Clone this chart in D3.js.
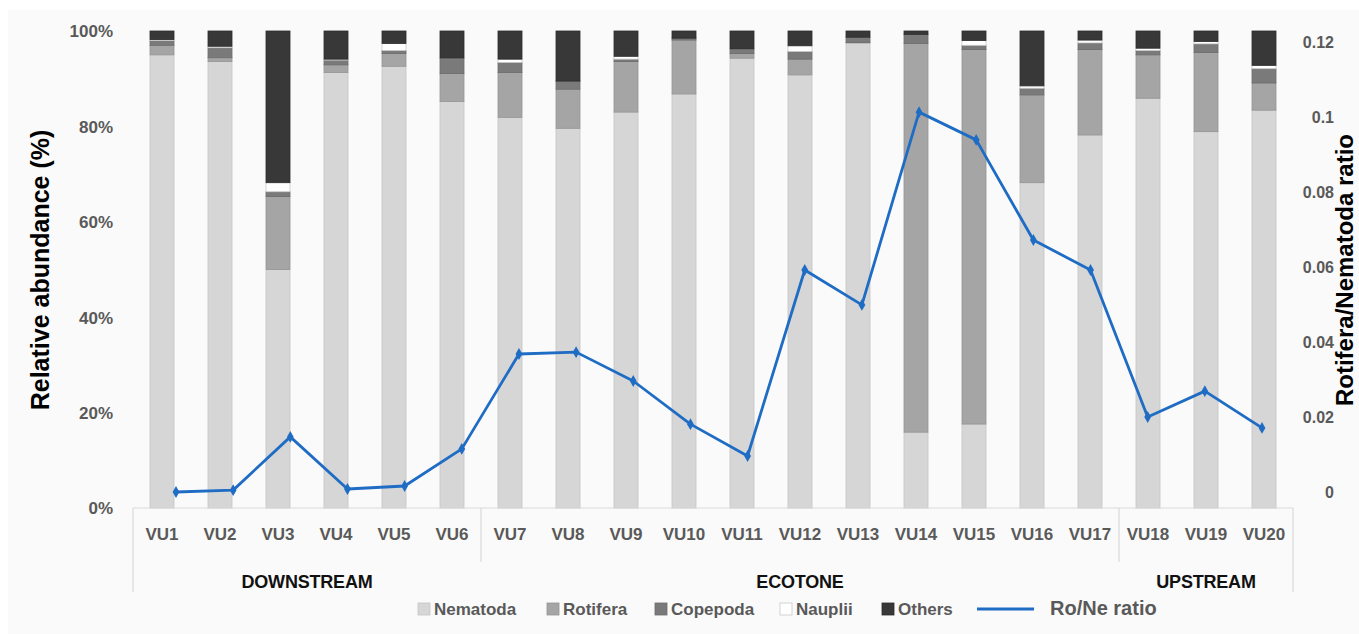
<!DOCTYPE html>
<html>
<head>
<meta charset="utf-8">
<script src="https://cdn.jsdelivr.net/npm/d3@7"></script>
<style>
  html, body { margin: 0; padding: 0; background: #ffffff; }
  svg { display: block; }
</style>
</head>
<body>
<svg id="chart" width="1359" height="634"></svg>
<script>
// ---------------- DATA ----------------
const categories = ["VU1","VU2","VU3","VU4","VU5","VU6","VU7","VU8","VU9","VU10",
                    "VU11","VU12","VU13","VU14","VU15","VU16","VU17","VU18","VU19","VU20"];
const groups = ["DOWNSTREAM","ECOTONE","UPSTREAM"];
const groupCounts = [6, 11, 3];
const seriesNames = ["Nematoda","Rotifera","Copepoda","Nauplii","Others"];
const nematoda = [95.0, 93.6, 50.0, 91.3, 92.6, 85.2, 81.9, 79.6, 83.0, 86.8,
                  94.3, 90.8, 97.5, 15.9, 17.6, 68.2, 78.2, 85.9, 78.9, 83.4];
const rotifera = [2.0, 0.8, 15.3, 1.6, 2.7, 5.9, 9.4, 8.2, 10.6, 11.3,
                  1.0, 3.3, 0.1, 81.5, 78.5, 18.4, 17.9, 9.1, 16.6, 5.7];
const copepoda = [1.0, 2.1, 1.0, 1.0, 0.6, 3.1, 2.1, 1.7, 0.5, 0.4,
                  0.8, 1.6, 1.1, 1.9, 0.9, 1.4, 1.4, 0.9, 1.8, 3.0];
const nauplii  = [0.2, 0.3, 1.9, 0.2, 1.5, 0.1, 0.7, 0.0, 0.6, 0.0,
                  0.1, 1.2, 0.0, 0.0, 1.0, 0.5, 0.6, 0.5, 0.5, 0.7];
const others   = [1.8, 3.2, 31.8, 5.9, 2.6, 5.7, 5.9, 10.5, 5.3, 1.5,
                  3.8, 3.1, 1.3, 0.7, 2.0, 11.5, 1.9, 3.6, 2.2, 7.2];
const roNeRatio = [0.0, 0.0005, 0.0147, 0.0008, 0.0016, 0.0115, 0.0368, 0.0373, 0.0296, 0.0181,
                   0.0096, 0.0592, 0.0499, 0.1013, 0.0939, 0.0672, 0.0592, 0.0200, 0.0269, 0.0171];
const leftTicks = [0, 20, 40, 60, 80, 100];
const rightTicks = [0, 0.02, 0.04, 0.06, 0.08, 0.1, 0.12];
const lineName = "Ro/Ne ratio";

// ---------------- STYLE ----------------
const colors = {Nematoda:"#d6d6d6", Rotifera:"#a5a5a5", Copepoda:"#7a7a7a", Nauplii:"#ffffff", Others:"#383838"};
const strokes = {Nematoda:"#c4c4c4", Rotifera:"#959595", Copepoda:"#6c6c6c", Nauplii:"#c8c8c8", Others:"#2c2c2c"};
const lineColor = "#1f6cc4";
const labelGrey = "#595959";
const axisGrey = "#d9d9d9";
const fontMain = "'Liberation Sans', Arial, sans-serif";

const svg = d3.select("#chart");

// background panel
svg.append("rect").attr("x", 8).attr("y", 10).attr("width", 1351).attr("height", 624).attr("fill", "#fafafa");

// ---------------- SCALES ----------------
const plotLeft = 133, plotRight = 1293, yTop = 31, yBottom = 508;
const x = d3.scaleBand().domain(categories).range([plotLeft, plotRight]).paddingInner(0.586).paddingOuter(0.293);
const y = d3.scaleLinear().domain([0, 100]).range([yBottom, yTop]);
const y2 = d3.scaleLinear().domain([0, 0.12]).range([492, 42]);
const xLine = d3.scalePoint().domain(categories).range([176, 1262]);

// ---------------- STACKED BARS ----------------
const table = categories.map((c, i) => ({
  cat: c, Nematoda: nematoda[i], Rotifera: rotifera[i], Copepoda: copepoda[i], Nauplii: nauplii[i], Others: others[i]
}));
const stacked = d3.stack().keys(seriesNames)(table);

const barG = svg.append("g");
stacked.forEach(layer => {
  barG.append("g").selectAll("rect").data(layer).join("rect")
    .attr("x", d => x(d.data.cat))
    .attr("width", x.bandwidth())
    .attr("y", d => y(d[1]))
    .attr("height", d => Math.max(0, y(d[0]) - y(d[1])))
    .attr("fill", colors[layer.key])
    .attr("stroke", d => (d[1] - d[0]) > 0 ? strokes[layer.key] : "none")
    .attr("stroke-width", 0.8);
});

// ---------------- LEFT AXIS ----------------
const leftAxis = svg.append("g").attr("transform", `translate(${113},0)`)
  .call(d3.axisLeft(y).tickValues(leftTicks).tickFormat(d => d + "%").tickSize(0).tickPadding(0));
leftAxis.select(".domain").remove();
leftAxis.selectAll("text").attr("font-family", fontMain).attr("font-weight", "bold")
  .attr("font-size", "17px").attr("fill", labelGrey).attr("text-anchor", "end").attr("dy", "0.35em");

// ---------------- RIGHT AXIS ----------------
const rightAxis = svg.append("g").attr("transform", `translate(${1334},0)`)
  .call(d3.axisLeft(y2).tickValues(rightTicks).tickFormat(d => String(+d.toFixed(2))).tickSize(0).tickPadding(0));
rightAxis.select(".domain").remove();
rightAxis.selectAll("text").attr("font-family", fontMain).attr("font-weight", "bold")
  .attr("font-size", "16px").attr("fill", labelGrey).attr("text-anchor", "end").attr("dy", "0.35em");

// ---------------- X AXIS (multi-level) ----------------
svg.append("line").attr("x1", plotLeft).attr("x2", plotRight).attr("y1", yBottom).attr("y2", yBottom)
  .attr("stroke", axisGrey).attr("stroke-width", 1.2);

const xAxis = svg.append("g").attr("transform", `translate(0,${yBottom})`)
  .call(d3.axisBottom(x).tickSize(0).tickPadding(0));
xAxis.select(".domain").remove();
xAxis.selectAll("text").attr("font-family", fontMain).attr("font-weight", "bold")
  .attr("font-size", "17px").attr("fill", labelGrey).attr("y", 26).attr("dy", "0.35em");

// group separators & labels
let start = 0;
const step = x.step();
const boundaries = [];
groups.forEach((g, gi) => {
  const first = categories[start], last = categories[start + groupCounts[gi] - 1];
  const gx0 = x(first) - step * x.paddingInner() / 2;
  const gx1 = x(last) + x.bandwidth() + step * x.paddingInner() / 2;
  boundaries.push(gx0);
  if (gi === groups.length - 1) boundaries.push(gx1);
  svg.append("text").attr("x", (gx0 + gx1) / 2).attr("y", 582).attr("dy", "0.35em")
    .attr("text-anchor", "middle").attr("font-family", "'Liberation Sans Narrow', 'Liberation Sans', Arial, sans-serif")
    .attr("font-weight", "bold").attr("font-size", "18px").attr("fill", "#111").attr("letter-spacing", "-0.2px")
    .text(g);
  start += groupCounts[gi];
});
boundaries.forEach((bx, i) => {
  const isEdge = (i === 0 || i === boundaries.length - 1);
  svg.append("line").attr("x1", bx).attr("x2", bx).attr("y1", yBottom).attr("y2", isEdge ? 592 : 562)
    .attr("stroke", axisGrey).attr("stroke-width", 1.2);
});

// ---------------- LINE ----------------
const lineGen = d3.line().x((d, i) => xLine(categories[i])).y(d => y2(d));
svg.append("path").datum(roNeRatio).attr("d", lineGen)
  .attr("fill", "none").attr("stroke", lineColor).attr("stroke-width", 2.8).attr("stroke-linejoin", "round");
svg.append("g").selectAll("path").data(roNeRatio).join("path")
  .attr("d", d3.symbol().type(d3.symbolDiamond).size(40))
  .attr("transform", (d, i) => `translate(${xLine(categories[i])},${y2(d)})`)
  .attr("fill", lineColor);

// ---------------- AXIS TITLES ----------------
svg.append("text").attr("transform", "translate(40,270) rotate(-90)")
  .attr("text-anchor", "middle").attr("dy", "0.35em")
  .attr("font-family", fontMain).attr("font-weight", "bold").attr("font-size", "25px").attr("fill", "#000")
  .text("Relative abundance (%)");
svg.append("text").attr("transform", "translate(1345,270) rotate(-90)")
  .attr("text-anchor", "middle").attr("dy", "0.35em")
  .attr("font-family", fontMain).attr("font-weight", "bold").attr("font-size", "24px").attr("fill", "#000")
  .text("Rotifera/Nematoda ratio");

// ---------------- LEGEND ----------------
const legendItems = [
  {name: seriesNames[0], x: 418}, {name: seriesNames[1], x: 547}, {name: seriesNames[2], x: 655},
  {name: seriesNames[3], x: 780}, {name: seriesNames[4], x: 882}
];
const legY = 609;
const leg = svg.append("g");
legendItems.forEach(it => {
  leg.append("rect").attr("x", it.x).attr("y", legY - 6).attr("width", 12).attr("height", 12)
    .attr("fill", colors[it.name]).attr("stroke", strokes[it.name]).attr("stroke-width", 0.8);
  leg.append("text").attr("x", it.x + 16).attr("y", legY).attr("dy", "0.35em")
    .attr("font-family", fontMain).attr("font-weight", "bold").attr("font-size", "17px").attr("fill", labelGrey)
    .text(it.name);
});
leg.append("line").attr("x1", 977).attr("x2", 1034).attr("y1", legY).attr("y2", legY)
  .attr("stroke", lineColor).attr("stroke-width", 2.8);
leg.append("text").attr("x", 1050).attr("y", legY - 1).attr("dy", "0.35em")
  .attr("font-family", fontMain).attr("font-weight", "bold").attr("font-size", "20px").attr("fill", labelGrey)
  .text(lineName);
</script>
</body>
</html>
